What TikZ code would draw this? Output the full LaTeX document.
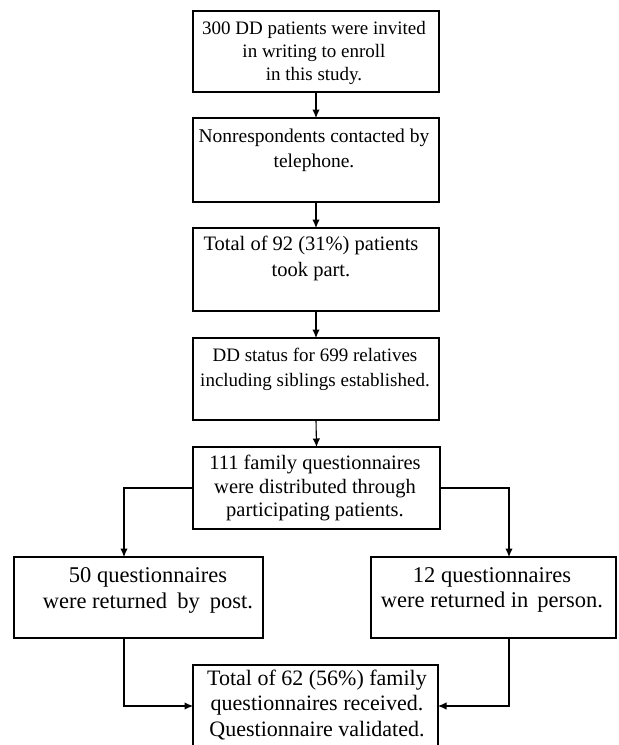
\documentclass[tikz,border=0pt]{standalone}
\usepackage{fontspec}
\setmainfont{Liberation Serif}
\usetikzlibrary{arrows.meta}
\begin{document}
\begin{tikzpicture}[x=1pt,y=-1pt,
  box/.style={draw=black,line width=1.1pt,rectangle,anchor=north west,inner sep=0pt,outer sep=0pt},
  txt/.style={align=center,inner sep=0pt,font=\fontsize{20.5}{24.5}\selectfont},
  arr/.style={draw=black,line width=1.1pt,-{Latex[length=8.5pt,width=7.5pt]}}]
\path[use as bounding box] (0,0) rectangle (619,745);
\begin{scope}
\clip (0,0) rectangle (619,745);
% boxes
\node[box,minimum width=246,minimum height=81] (b1) at (193,11) {};
\node[box,minimum width=246,minimum height=84] (b2) at (193,118) {};
\node[box,minimum width=246,minimum height=83] (b3) at (193,228) {};
\node[box,minimum width=246,minimum height=82] (b4) at (193,338) {};
\node[box,minimum width=247,minimum height=82] (b5) at (193,447) {};
\node[box,minimum width=249,minimum height=81] (b6) at (14,557) {};
\node[box,minimum width=245,minimum height=81] (b7) at (371,557) {};
\node[box,minimum width=245,minimum height=82] (b8) at (193,665) {};
% texts
\node[txt,font=\fontsize{19}{23}\selectfont] (t1) at (314,53) {300 DD patients were invited\\in writing to enroll\\in this study.};
\node[txt,font=\fontsize{19.5}{25}\selectfont] (t2) at (314,150.5) {Nonrespondents contacted by\\telephone.};
\node[txt,font=\fontsize{20.5}{26}\selectfont] (t3) at (311,258) {Total of 92 (31\%) patients\\took part.};
\node[txt,font=\fontsize{19}{25}\selectfont] (t4) at (315,369) {DD status for 699 relatives\\including siblings established.};
\node[txt,font=\fontsize{20.5}{23.5}\selectfont] (t5) at (315,488) {111 family questionnaires\\were distributed through\\participating patients.};
\node[txt,font=\fontsize{22.5}{26}\selectfont] (t6) at (148,590) {50 questionnaires\\were returned\hspace{0.45em}by\hspace{0.45em}post.};
\node[txt,font=\fontsize{22.5}{25}\selectfont] (t7) at (492,590) {12 questionnaires\\were returned in\hspace{0.4em}person.};
\node[txt,font=\fontsize{22}{25.5}\selectfont] (t8) at (317,705) {Total of 62 (56\%) family\\questionnaires received.\\Questionnaire validated.};
% connectors
\coordinate (c6) at (124,557);
\coordinate (c7) at (509,557);
\draw[arr] (b1.south) -- (b2.north);
\draw[arr] (b2.south) -- (b3.north);
\draw[arr] (b3.south) -- (b4.north);
\draw[arr] (b4.south) -- (b5.north);
\draw[arr] (b5.west) -| (c6);
\draw[arr] (b5.east) -| (c7);
\draw[arr] (c6 |- b6.south) |- (b8.west);
\draw[arr] (c7 |- b7.south) |- (b8.east);
\end{scope}
\end{tikzpicture}
\end{document}
